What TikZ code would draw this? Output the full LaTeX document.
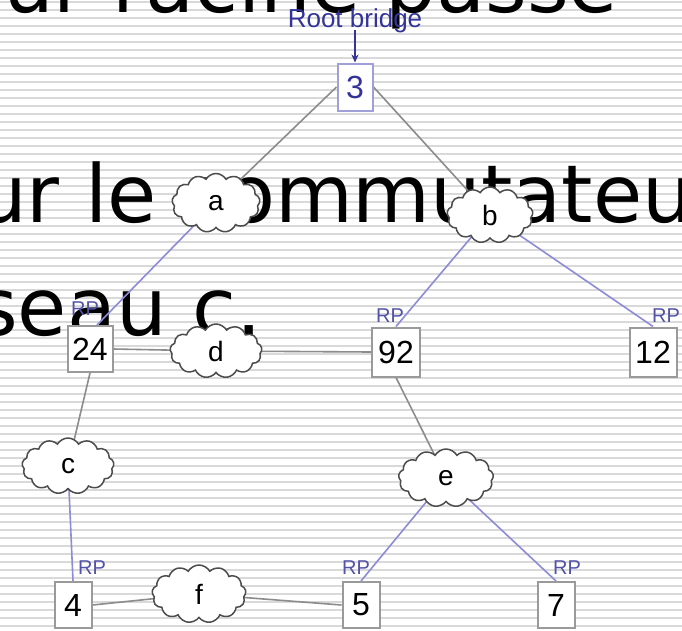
\documentclass[tikz,border=0pt]{standalone}
\usepackage{fontspec}
\setmainfont{DejaVu Sans}
\newfontfamily\lib{Liberation Sans}
\usetikzlibrary{shapes.symbols,arrows.meta}
\pgfdeclarelayer{stripes}
\pgfdeclarelayer{bigtext}
\pgfdeclarelayer{edges}
\pgfsetlayers{stripes,bigtext,edges,main}
\definecolor{stripe}{HTML}{D9D9D9}
\definecolor{edgegray}{HTML}{8C8C8C}
\definecolor{edgeblue}{HTML}{8C8CD9}
\definecolor{navy}{HTML}{333399}
\definecolor{rootframe}{HTML}{A0A0D8}
\definecolor{boxgray}{HTML}{9A9A9A}
\begin{document}
\begin{tikzpicture}[x=1pt,y=-1pt,
  bridge/.style={draw=boxgray, fill=white, line width=2pt, inner sep=0pt, font=\lib\fontsize{32}{32}\selectfont},
  lan/.style={cloud, cloud puffs=13, cloud puff arc=120, cloud ignores aspect, draw=black!70, fill=white, line width=1.5pt, inner sep=0pt, minimum width=90pt, minimum height=56pt, font=\lib\fontsize{28}{28}\selectfont},
  rp/.style={text=navy!85, font=\lib\fontsize{20}{20}\selectfont, inner sep=0pt},
  graylink/.style={draw=edgegray, line width=1.6pt},
  bluelink/.style={draw=edgeblue, line width=1.6pt},
  big/.style={anchor=base west, inner sep=0pt, font=\fontsize{80}{80}\selectfont}]
\useasboundingbox (0,0) rectangle (682,630);
\begin{pgfonlayer}{stripes}
  \fill[white] (0,0) rectangle (682,630);
  \foreach \k in {0,...,78} \fill[stripe] (0,{1+8*\k}) rectangle (682,{3+8*\k});
\end{pgfonlayer}
\begin{pgfonlayer}{bigtext}
  \node[big] (t1) at (3,12) {ur racine passe};
  \node[big] (t2) at (-24,222) {ur le commutateur};
  \node[big] (t3) at (-24,335) {seau c.};
\end{pgfonlayer}

% bridges
\node[bridge, draw=rootframe, text=navy, minimum width=35pt, minimum height=47pt] (n3) at (355,87) {3};
\node[bridge, minimum width=45pt, minimum height=46pt] (n24) at (90,349) {24};
\node[bridge, minimum width=48pt, minimum height=49pt] (n92) at (396,352) {92};
\node[bridge, minimum width=47pt, minimum height=49pt] (n12) at (653,352) {12};
\node[bridge, minimum width=37pt, minimum height=46pt] (n4) at (73,605) {4};
\node[bridge, minimum width=37pt, minimum height=46pt] (n5) at (361,605) {5};
\node[bridge, minimum width=37pt, minimum height=46pt] (n7) at (556,605) {7};

% LANs
\node[lan, minimum width=88pt, minimum height=59pt] (a) at (216,203) {a};
\node[lan, minimum width=86pt, minimum height=56pt] (b) at (490,215) {b};
\node[lan, minimum width=92pt, minimum height=56pt] (c) at (68,466) {c};
\node[lan, minimum width=92pt, minimum height=54pt] (d) at (216,351) {d};
\node[lan, minimum width=95pt, minimum height=58pt] (e) at (446,478) {e};
\node[lan, minimum width=94pt, minimum height=58pt] (f) at (199,594) {f};

% labels
\node[text=navy, font=\lib\fontsize{26}{26}\selectfont, inner sep=0pt] (root) at (355,21) {Root bridge};
\node[rp] (rp24) at (85,309) {RP};
\node[rp] (rp92) at (390,316) {RP};
\node[rp] (rp12) at (666,316) {RP};
\node[rp] (rp4) at (92,568) {RP};
\node[rp] (rp5) at (356,568) {RP};
\node[rp] (rp7) at (567,568) {RP};

\draw[navy, line width=1.6pt, -{Stealth[length=8pt,width=7pt]}] ([yshift=3pt]root.south) -- (n3.north);

\begin{pgfonlayer}{edges}
  \draw[graylink] (n3.west) -- (a.center);
  \draw[graylink] (n3.east) -- (b.center);
  \draw[bluelink] ([xshift=7pt]n24.north) -- (a.center);
  \draw[bluelink] (n92.north) -- (b.center);
  \draw[bluelink] (n12.north) -- (b.center);
  \draw[graylink] (n24.east) -- (d.center);
  \draw[graylink] (d.center) -- (n92.west);
  \draw[graylink] (n24.south) -- (c.center);
  \draw[graylink] (n92.south) -- (e.center);
  \draw[bluelink] (c.center) -- (n4.north);
  \draw[bluelink] (e.center) -- (n5.north);
  \draw[bluelink] (e.center) -- (n7.north);
  \draw[graylink] (n4.east) -- (f.center);
  \draw[graylink] (f.center) -- (n5.west);
\end{pgfonlayer}
\end{tikzpicture}
\end{document}
